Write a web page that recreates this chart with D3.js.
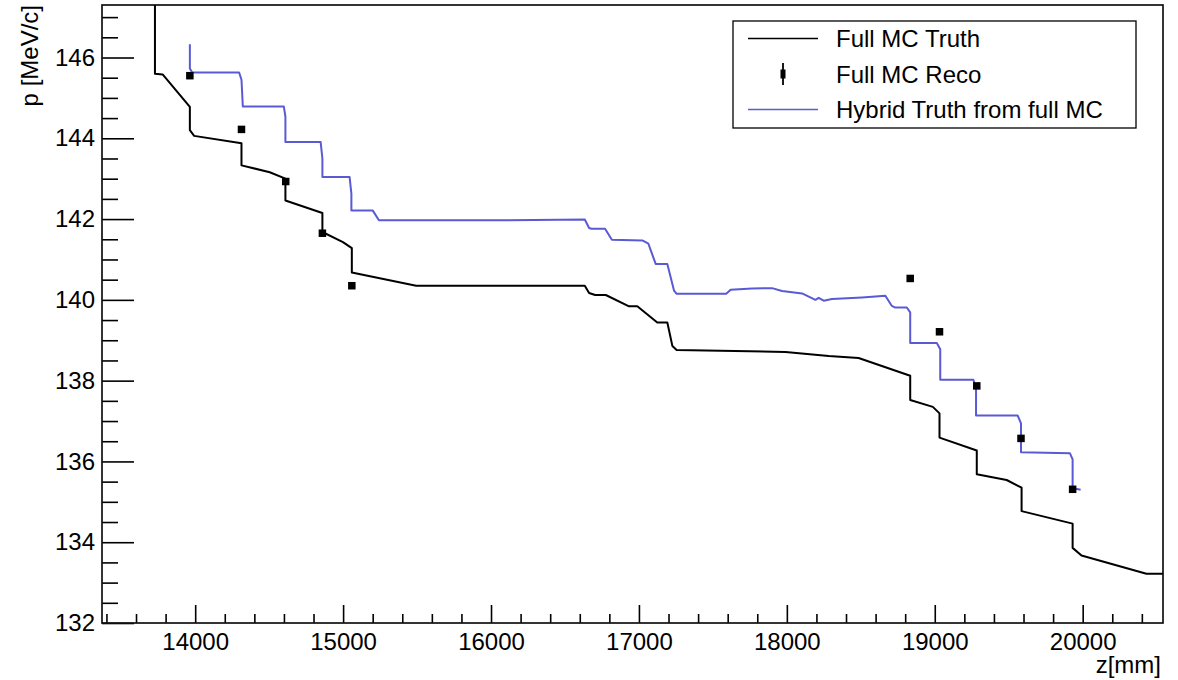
<!DOCTYPE html>
<html><head><meta charset="utf-8">
<script src="https://cdn.jsdelivr.net/npm/d3@7"></script>
<style>
body{margin:0;background:#fff}
text{font-family:"Liberation Sans",Arial,Helvetica,sans-serif;fill:#000}
</style>
</head><body>
<svg id="c" width="1178" height="680"></svg>
<script>
// ---- data ----
const truthZ = [13728,13728,13780,13964,13964,13993,14313,14313,14504,14610,14610,14860,14860,14999,15059,15059,15494,16634,16663,16704,16776,16933,16989,17124,17192,17226,17255,17991,18283,18485,18834,18834,18987,19032,19032,19284,19284,19486,19587,19587,19932,19932,19992,20431,20543];
const truthP = [147.8,145.60,145.58,144.78,144.20,144.06,143.88,143.33,143.16,143.00,142.46,142.15,141.68,141.43,141.28,140.68,140.35,140.35,140.17,140.12,140.12,139.84,139.84,139.44,139.44,138.86,138.76,138.71,138.61,138.56,138.12,137.52,137.35,137.19,136.59,136.27,135.68,135.54,135.35,134.77,134.46,133.86,133.67,133.22,133.22];

const hybridZ = [13964,13964,13980,14297,14313,14322,14599,14610,14610,14848,14860,14860,15044,15056,15056,15201,15242,16000,16634,16663,16680,16771,16817,17023,17064,17113,17192,17237,17255,17590,17620,17765,17900,17968,18103,18148,18193,18215,18249,18305,18508,18666,18710,18733,18811,18834,18834,19014,19037,19037,19261,19279,19279,19560,19583,19583,19914,19932,19932,19945,19986];
const hybridP = [146.33,145.73,145.63,145.63,145.45,144.79,144.79,144.54,143.91,143.91,143.50,143.04,143.04,142.63,142.21,142.21,141.97,141.97,141.99,141.78,141.76,141.76,141.49,141.47,141.39,140.89,140.89,140.23,140.15,140.15,140.25,140.28,140.29,140.22,140.16,140.08,140.00,140.05,139.98,140.02,140.06,140.10,139.85,139.81,139.81,139.69,138.93,138.93,138.78,138.02,138.02,137.83,137.14,137.14,136.94,136.23,136.20,136.05,135.36,135.33,135.30];

const recoZ = [13964,14313,14612,14860,15059,18834,19032,19284,19583,19932];
const recoP = [145.55,144.22,142.93,141.65,140.35,140.53,139.21,137.87,136.57,135.31];

const xMajorTicks = [14000,15000,16000,17000,18000,19000,20000];
const xTickLabels = ["14000","15000","16000","17000","18000","19000","20000"];
const yMajorTicks = [132,134,136,138,140,142,144,146];
const yTickLabels = ["132","134","136","138","140","142","144","146"];
const legendLabels = ["Full MC Truth","Full MC Reco","Hybrid Truth from full MC"];
const xTitle = "z[mm]";
const yTitle = "p [MeV/c]";

// ---- layout ----
const L=102, R=1163, T=5, B=623;
const BLUE = "#5a5ad4";
const svg = d3.select("#c");
const x = d3.scaleLinear().domain([13370,20543]).range([L,R]);
const y = d3.scaleLinear().domain([132,147.3]).range([B,T]);

const xMinor = d3.range(13400,20543,200).filter(v=>v%1000!==0);
const yMinor = d3.range(132,147.31,0.5).filter(v=>Math.abs(v%2)>1e-6);

svg.append("defs").append("clipPath").attr("id","clip")
  .append("rect").attr("x",L).attr("y",T).attr("width",R-L).attr("height",B-T);

function styleAxis(g){
  g.select(".domain").remove();
  g.selectAll("line").attr("stroke","#000").attr("stroke-width",1.6);
  g.selectAll("text").style("font-size","24px").attr("fill","#000");
}
// x axis
svg.append("g").attr("transform",`translate(0,${B})`)
  .call(d3.axisBottom(x).tickValues(xMinor).tickSize(-9).tickFormat(""))
  .call(styleAxis);
svg.append("g").attr("transform",`translate(0,${B})`)
  .call(d3.axisBottom(x).tickValues(xMajorTicks).tickSize(-18).tickPadding(10)
        .tickFormat((d,i)=>xTickLabels[i]))
  .call(styleAxis);
// y axis
svg.append("g").attr("transform",`translate(${L},0)`)
  .call(d3.axisLeft(y).tickValues(yMinor).tickSize(-16).tickFormat(""))
  .call(styleAxis);
svg.append("g").attr("transform",`translate(${L},0)`)
  .call(d3.axisLeft(y).tickValues(yMajorTicks).tickSize(-32).tickPadding(7)
        .tickFormat((d,i)=>yTickLabels[i]))
  .call(styleAxis);

// frame
svg.append("rect").attr("x",L).attr("y",T).attr("width",R-L).attr("height",B-T)
  .attr("fill","none").attr("stroke","#111").attr("stroke-width",1.7);

// lines
const plot = svg.append("g").attr("clip-path","url(#clip)");
const line = d3.line().x(d=>x(d[0])).y(d=>y(d[1]));
plot.append("path").datum(truthZ.map((z,i)=>[z,truthP[i]]))
  .attr("d",line).attr("fill","none").attr("stroke","#000").attr("stroke-width",2)
  .attr("stroke-linejoin","round");
plot.append("path").datum(hybridZ.map((z,i)=>[z,hybridP[i]]))
  .attr("d",line).attr("fill","none").attr("stroke",BLUE).attr("stroke-width",2)
  .attr("stroke-linejoin","round");
const ms=7.5;
plot.selectAll("rect.reco").data(recoZ.map((z,i)=>[z,recoP[i]])).join("rect")
  .attr("class","reco")
  .attr("x",d=>x(d[0])-ms/2).attr("y",d=>y(d[1])-ms/2)
  .attr("width",ms).attr("height",ms).attr("fill","#000");

// titles
svg.append("text").attr("transform",`translate(38,${T}) rotate(-90)`)
  .attr("text-anchor","end").style("font-size","24px").text(yTitle);
svg.append("text").attr("x",1161).attr("y",673)
  .attr("text-anchor","end").style("font-size","24px").text(xTitle);

// legend
const lg = svg.append("g");
lg.append("rect").attr("x",733).attr("y",21).attr("width",403).attr("height",107)
  .attr("fill","#fff").attr("stroke","#000").attr("stroke-width",1.3);
const rows=[38.5,74,109.5];
lg.append("line").attr("x1",748).attr("x2",818).attr("y1",rows[0]).attr("y2",rows[0])
  .attr("stroke","#000").attr("stroke-width",1.5);
lg.append("line").attr("x1",783).attr("x2",783).attr("y1",rows[1]-11).attr("y2",rows[1]+11)
  .attr("stroke","#000").attr("stroke-width",1.8);
lg.append("rect").attr("x",780.5).attr("y",rows[1]-4.5).attr("width",5).attr("height",9).attr("fill","#000");
lg.append("line").attr("x1",748).attr("x2",818).attr("y1",rows[2]).attr("y2",rows[2])
  .attr("stroke",BLUE).attr("stroke-width",1.5);
lg.selectAll("text.lt").data(legendLabels).join("text").attr("class","lt")
  .attr("x",836).attr("y",(d,i)=>rows[i]+8.5).style("font-size","24px").text(d=>d);
</script>
</body></html>
